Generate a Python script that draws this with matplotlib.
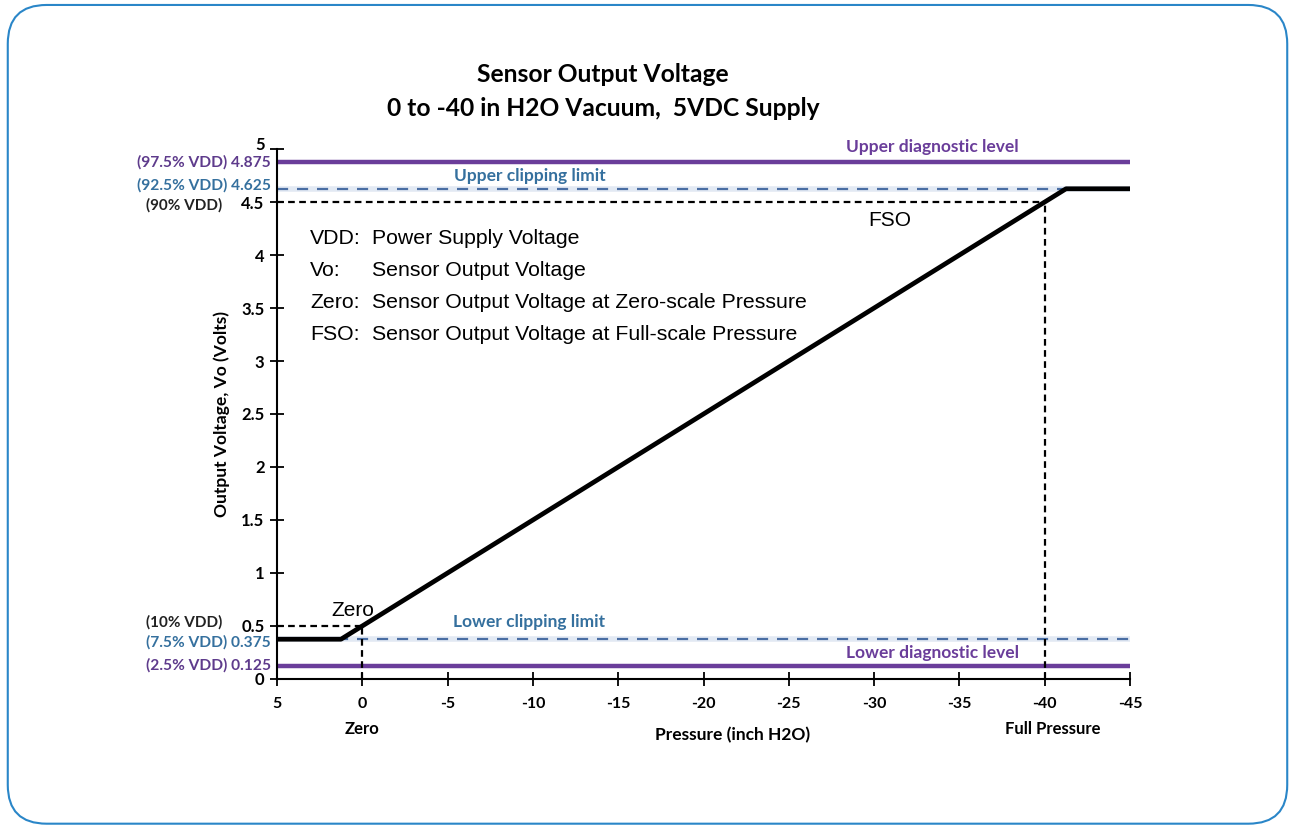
import matplotlib
matplotlib.use("Agg")
import matplotlib.pyplot as plt
from matplotlib.patches import FancyBboxPatch
from matplotlib.transforms import offset_copy

# data
pressure = [5, 1.25, -41.25, -45]
vout = [0.375, 0.375, 4.625, 4.625]
zero_p, full_p = 0, -40
zero_v, fso_v = 0.5, 4.5
upper_diag, lower_diag = 4.875, 0.125
upper_clip, lower_clip = 4.625, 0.375
x_ticks = [5, 0, -5, -10, -15, -20, -25, -30, -35, -40, -45]
y_ticks = [0, 0.5, 1, 1.5, 2, 2.5, 3, 3.5, 4, 4.5, 5]
y_tick_labels = ["0", "0.5", "1", "1.5", "2", "2.5", "3", "3.5", "4", "4.5", ""]
# (value, text, colour, vertical nudge in points)
extra_labels = [(4.875, "(97.5% VDD) 4.875", "#5e3b8c", 0),
                (4.625, "(92.5% VDD) 4.625", "#35709e", 2.5),
                (0.375, "(7.5% VDD) 0.375", "#35709e", -2.5),
                (0.125, "(2.5% VDD) 0.125", "#5e3b8c", 0)]
prefix_labels = [(4.5, "(90% VDD)", -2.5), (0.5, "(10% VDD)", 2.5)]
legend_keys = ["VDD:", "Vo:", "Zero:", "FSO:"]
legend_text = ["Power Supply Voltage", "Sensor Output Voltage",
               "Sensor Output Voltage at Zero-scale Pressure",
               "Sensor Output Voltage at Full-scale Pressure"]

purple = "#6a3d9a"
blue = "#4a6ea3"
bold_font = "Lato"

fig = plt.figure(figsize=(12.95, 8.27), dpi=100)
frame = FancyBboxPatch((0.006, 0.004), 0.988, 0.99, boxstyle="round,pad=0,rounding_size=0.03",
                       transform=fig.transFigure, fill=False, edgecolor="#2a86c8", linewidth=1.5,
                       mutation_aspect=1295 / 827)
fig.patches.append(frame)

ax = fig.add_axes([0.2139, 0.179, 0.6587, 0.6408])
ax.set_xlim(5, -45)
ax.set_ylim(0, 5)

# diagnostic and clipping levels
ax.axhline(upper_diag, color=purple, lw=3.2, zorder=2)
ax.axhline(lower_diag, color=purple, lw=3.2, zorder=2)
ax.axhline(upper_clip, color="#e2e9f3", lw=4, zorder=1)
ax.axhline(lower_clip, color="#e2e9f3", lw=4, zorder=1)
ax.axhline(upper_clip, color=blue, lw=1.6, ls=(0, (5, 4)), zorder=2)
ax.axhline(lower_clip, color=blue, lw=1.6, ls=(0, (5, 4)), zorder=2)

# zero / FSO guides
ax.plot([5, zero_p], [zero_v, zero_v], color="black", lw=1.6, ls=(0, (3, 2)), zorder=3)
ax.plot([zero_p, zero_p], [0, zero_v], color="black", lw=1.6, ls=(0, (3, 2)), zorder=3)
ax.plot([5, full_p], [fso_v, fso_v], color="black", lw=1.6, ls=(0, (3, 2)), zorder=3)
ax.plot([full_p, full_p], [0, fso_v], color="black", lw=1.6, ls=(0, (3, 2)), zorder=3)

# output curve
ax.plot(pressure, vout, color="black", lw=3.4, zorder=4, solid_capstyle="butt")

for side in ["top", "right"]:
    ax.spines[side].set_visible(False)
ax.spines["left"].set_linewidth(1.5)
ax.spines["bottom"].set_linewidth(1.5)
ax.set_xticks(x_ticks)
ax.set_xticklabels([str(v) for v in x_ticks], fontfamily=bold_font, fontweight="bold", fontsize=11.5)
ax.set_yticks(y_ticks)
ax.set_yticklabels(y_tick_labels, fontfamily=bold_font, fontweight="bold", fontsize=12)
ax.tick_params(direction="inout", length=10, width=1.3, pad=4)
ax.tick_params(axis="x", pad=8)

# top tick label nudged up a little so it clears the 4.875 label
top_tr = offset_copy(ax.get_yaxis_transform(), fig=fig, x=-9, y=3, units="points")
ax.text(0, y_ticks[-1], "5", transform=top_tr, ha="right", va="center",
        fontfamily=bold_font, fontweight="bold", fontsize=12)

for y, lab, c, dy in extra_labels:
    tr = offset_copy(ax.get_yaxis_transform(), fig=fig, x=0, y=dy, units="points")
    ax.text(-0.007, y, lab, transform=tr, ha="right", va="center",
            color=c, fontfamily=bold_font, fontweight="bold", fontsize=11.2)
for y, lab, dy in prefix_labels:
    tr = offset_copy(ax.get_yaxis_transform(), fig=fig, x=0, y=dy, units="points")
    ax.text(-0.064, y, lab, transform=tr, ha="right", va="center",
            color="#222222", fontfamily=bold_font, fontweight="bold", fontsize=11)

ax.set_ylabel("Output Voltage, Vo (Volts)", fontfamily=bold_font, fontweight="bold", fontsize=12.5, labelpad=8)
fig.text(733 / 1295, 1 - 735 / 827, "Pressure (inch H2O)", ha="center", va="center",
         fontfamily=bold_font, fontweight="bold", fontsize=12.5)
ax.text(zero_p, -0.47, "Zero", ha="center", va="center", fontfamily=bold_font, fontweight="bold", fontsize=12)
ax.text(full_p - 0.5, -0.47, "Full Pressure", ha="center", va="center", fontfamily=bold_font, fontweight="bold", fontsize=12)

ax.text(-33.4, 5.02, "Upper diagnostic level", color=purple, ha="center", va="center",
        fontfamily=bold_font, fontweight="bold", fontsize=12.5)
ax.text(-33.4, 0.245, "Lower diagnostic level", color=purple, ha="center", va="center",
        fontfamily=bold_font, fontweight="bold", fontsize=12.5)
ax.text(-9.8, 4.75, "Upper clipping limit", color="#35709e", ha="center", va="center",
        fontfamily=bold_font, fontweight="bold", fontsize=12.5)
ax.text(-9.8, 0.54, "Lower clipping limit", color="#35709e", ha="center", va="center",
        fontfamily=bold_font, fontweight="bold", fontsize=12.5)

ax.text(0.55, 0.65, "Zero", ha="center", va="center", fontfamily="Liberation Sans", fontsize=15, zorder=5)
ax.text(-30.9, 4.33, "FSO", ha="center", va="center", fontfamily="Liberation Sans", fontsize=15)

for i, (k, t) in enumerate(zip(legend_keys, legend_text)):
    fig.text(310 / 1295, 1 - (238 + 32 * i) / 827, k, ha="left", va="center",
             fontfamily="Liberation Sans", fontsize=15.3)
    fig.text(372 / 1295, 1 - (238 + 32 * i) / 827, t, ha="left", va="center",
             fontfamily="Liberation Sans", fontsize=15.3)

fig.text(603 / 1295, 1 - 75 / 827, "Sensor Output Voltage", ha="center", va="center",
         fontfamily=bold_font, fontweight="bold", fontsize=17.7)
fig.text(603 / 1295, 1 - 108 / 827, "0 to -40 in H2O Vacuum,  5VDC Supply", ha="center", va="center",
         fontfamily=bold_font, fontweight="bold", fontsize=17.7)

fig.savefig("out.png", dpi=100)
